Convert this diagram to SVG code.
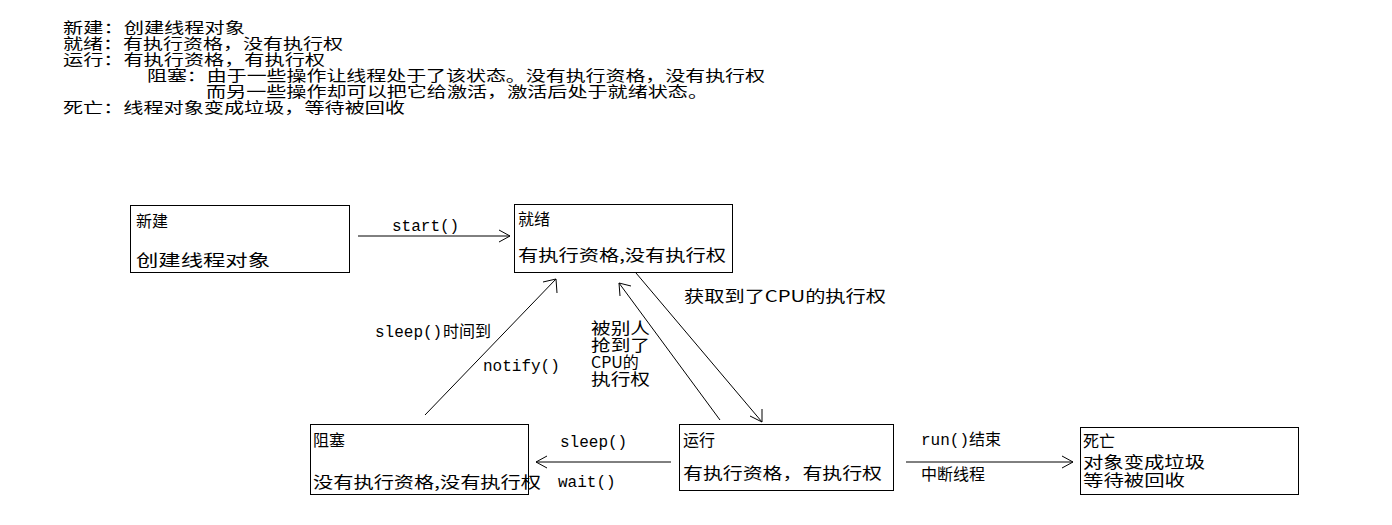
<svg xmlns="http://www.w3.org/2000/svg" width="1392" height="525" viewBox="0 0 1392 525">
<style>
text{font-family:"Noto Sans CJK SC","DejaVu Sans",sans-serif;font-size:16px;fill:#000}
.h{font-size:15px}
.m{font-family:"Liberation Mono",monospace;font-size:16px}
.b{fill:#fff;stroke:#000;stroke-width:1}
.c line{stroke:#000;stroke-width:1}
.c polyline{fill:none;stroke:#000;stroke-width:1}
</style>
<rect width="1392" height="525" fill="#fff"/>
<g id="notes">
<text class="h" x="63" y="33" textLength="182" lengthAdjust="spacingAndGlyphs">新建：创建线程对象</text>
<text class="h" x="63" y="49" textLength="280" lengthAdjust="spacingAndGlyphs">就绪：有执行资格，没有执行权</text>
<text class="h" x="63" y="65" textLength="262" lengthAdjust="spacingAndGlyphs">运行：有执行资格，有执行权</text>
<text class="h" x="147" y="81" textLength="618" lengthAdjust="spacingAndGlyphs">阻塞：由于一些操作让线程处于了该状态。没有执行资格，没有执行权</text>
<text class="h" x="206" y="97" textLength="502" lengthAdjust="spacingAndGlyphs">而另一些操作却可以把它给激活，激活后处于就绪状态。</text>
<text class="h" x="63" y="113" textLength="342" lengthAdjust="spacingAndGlyphs">死亡：线程对象变成垃圾，等待被回收</text>
</g>
<g id="new"><rect class="b" x="130.5" y="205.5" width="219" height="67"/><text x="136" y="227">新建</text><text x="136" y="266" textLength="134" lengthAdjust="spacingAndGlyphs">创建线程对象</text></g>
<g id="ready"><rect class="b" x="514.5" y="204.5" width="218" height="68"/><text x="518" y="225">就绪</text><text x="518" y="261" textLength="208" lengthAdjust="spacingAndGlyphs">有执行资格,没有执行权</text></g>
<g id="blocked"><rect class="b" x="310.5" y="424.5" width="218" height="70"/><text x="313" y="446">阻塞</text><text x="313" y="488" textLength="228" lengthAdjust="spacingAndGlyphs">没有执行资格,没有执行权</text></g>
<g id="running"><rect class="b" x="679.5" y="424.5" width="214" height="66"/><text x="683" y="446">运行</text><text x="683" y="479" textLength="199" lengthAdjust="spacingAndGlyphs">有执行资格，有执行权</text></g>
<g id="dead"><rect class="b" x="1080.5" y="427.5" width="218" height="67"/><text x="1083" y="447">死亡</text><text x="1083" y="468" textLength="122" lengthAdjust="spacingAndGlyphs">对象变成垃圾</text><text x="1083" y="486" textLength="102" lengthAdjust="spacingAndGlyphs">等待被回收</text></g>
<g class="c" id="connectors">
<line x1="358" y1="236" x2="510" y2="236"/><polyline points="499,230 510,236 499,242"/>
<line x1="425" y1="415" x2="556" y2="279"/><polyline points="543,282 556,279 557,293"/>
<line x1="720" y1="420" x2="619" y2="283"/><polyline points="631,286 619,283 620,296"/>
<line x1="636" y1="273" x2="762" y2="422"/><polyline points="762,409 762,422 750,416"/>
<line x1="671" y1="462" x2="536" y2="462"/><polyline points="547,456 536,462 547,468"/>
<line x1="906" y1="462" x2="1073" y2="462"/><polyline points="1062,456 1073,462 1062,468"/>
</g>
<g id="labels">
<text class="m" x="392" y="231">start()</text>
<text x="684" y="302" textLength="202" lengthAdjust="spacingAndGlyphs">获取到了CPU的执行权</text>
<text class="m" x="375" y="337">sleep()</text><text x="443" y="337">时间到</text>
<text class="m" x="483" y="371">notify()</text>
<text x="591" y="334" textLength="59" lengthAdjust="spacingAndGlyphs">被别人</text><text x="591" y="351" textLength="59" lengthAdjust="spacingAndGlyphs">抢到了</text><text x="591" y="368">CPU的</text><text x="591" y="385" textLength="59" lengthAdjust="spacingAndGlyphs">执行权</text>
<text class="m" x="560" y="447">sleep()</text>
<text class="m" x="558" y="487">wait()</text>
<text class="m" x="921" y="445">run()</text><text x="969" y="445">结束</text>
<text x="921" y="480">中断线程</text>
</g>
</svg>
